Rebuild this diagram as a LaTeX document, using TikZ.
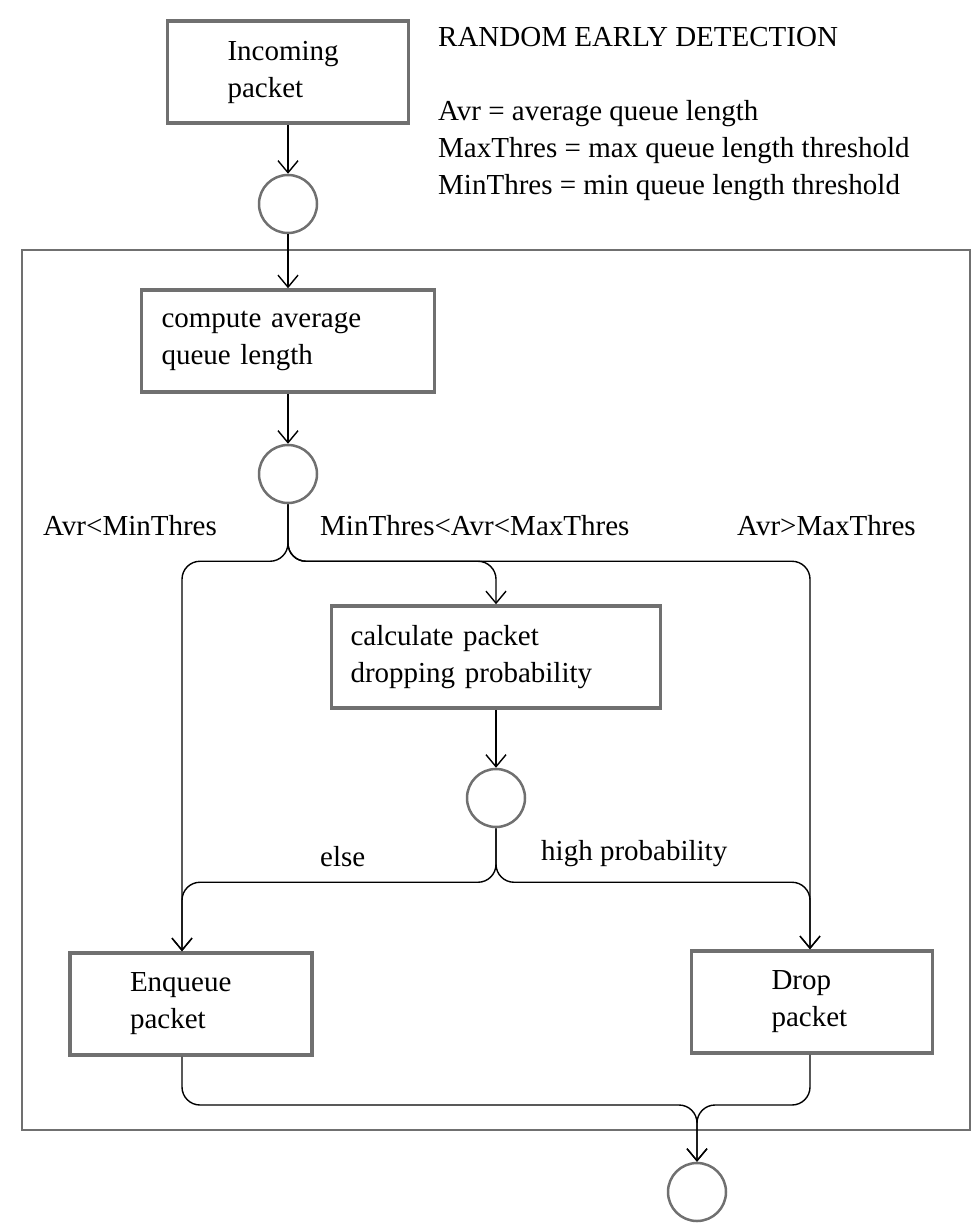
\documentclass[tikz,border=0pt]{standalone}
\usepackage{fontspec}
\setmainfont{Liberation Serif}
\usetikzlibrary{arrows.meta,positioning,calc}
\definecolor{boxgray}{HTML}{707070}
\newcommand{\redfont}{\fontsize{29}{37}\selectfont}
\tikzset{
  basic/.style  = {draw=boxgray, font=\redfont},
  block/.style  = {basic, rectangle, line width=3.5pt, minimum height=102pt, align=left, inner ysep=0pt},
  ring/.style   = {draw=boxgray, circle, line width=2.5pt, minimum size=58pt, inner sep=0pt},
  area/.style   = {draw=boxgray, rectangle, line width=2.5pt, inner sep=0pt},
  note/.style   = {font=\redfont, inner sep=0pt, anchor=base west},
  flow/.style   = {draw=black, line width=1.4pt, -{Straight Barb[length=12pt,width=20pt,line width=1.4pt]}},
  branch/.style = {flow, rounded corners=18pt}
}
\begin{document}
\begin{tikzpicture}[x=1pt,y=-1pt]
\useasboundingbox (0,0) rectangle (977,1223);
% outer frame around the RED logic
\node [area, minimum width=948pt, minimum height=880pt] (redarea) at (496,690) {};
% title and legend
\node [note] (title) at (438,47) {RANDOM EARLY DETECTION};
\node [note] (avrdef) at (438,120) {Avr = average queue length};
\node [note] (maxdef) at (438,157) {MaxThres = max queue length threshold};
\node [note] (mindef) at (438,194) {MinThres = min queue length threshold};
% main chain
\node [block, text width=121pt, inner xsep=60pt] (incoming) at (288,72) {Incoming\\packet};
\node [ring, below=49pt of incoming] (ring1) {};
\node [block, text width=253pt, inner xsep=20pt, below=54pt of ring1] (compute) {compute average\\queue length};
\node [ring, below=50pt of compute] (ring2) {};
\node [block, text width=291pt, inner xsep=19pt] (calc) at (496,657) {calculate packet\\dropping probability};
\node [ring, below=58pt of calc] (ring3) {};
% the two outcomes
\node [block, text width=122pt, inner xsep=60pt] (enqueue) at (191,1004) {Enqueue\\packet};
\node [block, text width=81pt, inner xsep=80pt] (drop) at (812,1002) {Drop\\packet};
\node [ring] (ring4) at (697,1192) {};
% branch points
\coordinate (split2) at ($(ring2.south)+(0,57)$);
\coordinate (split3) at ($(ring3.south)+(0,54)$);
\coordinate (join) at (697,1105);
% condition labels
\node [note] (lowcond) at (43,535) {Avr<MinThres};
\node [note] (midcond) at (320,535) {MinThres<Avr<MaxThres};
\node [note] (highcond) at (737,535) {Avr>MaxThres};
\node [note] (elsecond) at (320,866) {else};
\node [note] (probcond) at (541,860) {high probability};
% straight arrows
\draw [flow] (incoming) -- (ring1);
\draw [flow] (ring1) -- (compute);
\draw [flow] (compute) -- (ring2);
\draw [flow] (calc) -- (ring3);
% three-way split on Avr
\draw [branch] (ring2.south) -- (split2) -| ([xshift=-9pt]enqueue.north);
\draw [branch] (ring2.south) -- (split2) -| (calc.north);
\draw [branch] (ring2.south) -- (split2) -| ([xshift=-2pt]drop.north);
% split on probability
\draw [branch] (ring3.south) -- (split3) -| ([xshift=-9pt]enqueue.north);
\draw [branch] (ring3.south) -- (split3) -| ([xshift=-2pt]drop.north);
% merge to exit
\draw [branch] ([xshift=-9pt]enqueue.south) |- (join) -- (ring4.north);
\draw [branch] ([xshift=-2pt]drop.south) |- (join) -- (ring4.north);
\end{tikzpicture}
\end{document}
